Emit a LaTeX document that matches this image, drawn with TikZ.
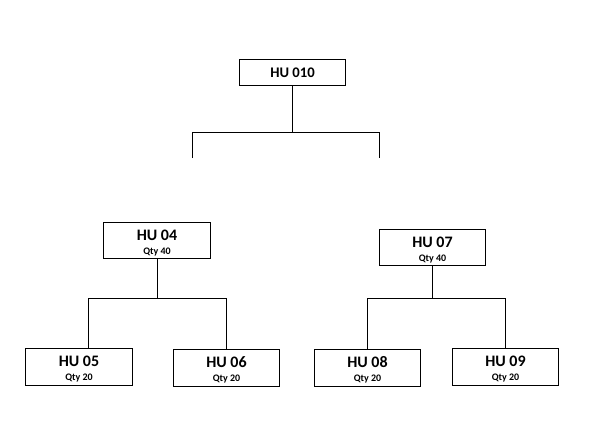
\documentclass[tikz,border=0pt]{standalone}
\usepackage{fontspec}
\setmainfont{Carlito}
\usetikzlibrary{positioning,calc}
\tikzset{
  hubox/.style={draw=black, line width=0.75pt, rectangle, inner sep=0pt,
    minimum width=80pt, minimum height=27.5pt, align=center, font=\bfseries},
  topbox/.style={hubox, minimum height=19pt},
  link/.style={draw=black, line width=0.75pt}
}
\newcommand{\hulabel}[2]{{\fontsize{12}{13}\selectfont\rule{0pt}{11.5pt}#1}\\[-1.5pt]{\fontsize{7.5}{8}\selectfont #2}}

\begin{document}
\begin{tikzpicture}[x=0.75pt, y=-0.75pt]
    \useasboundingbox (0,0) rectangle (592,444);

    % top of the tree
    \node[topbox, font=\bfseries\fontsize{11}{12}\selectfont] (hu010) at (292.5,72.5) {HU 010};
    \coordinate (b010) at (292.5,132.5);
    \coordinate (b010l) at (192.5,132.5);
    \coordinate (b010r) at (379.5,132.5);
    \coordinate (e010l) at (192.5,158);
    \coordinate (e010r) at (379.5,158);

    \draw[link] (hu010.south -| b010) -- (b010);
    \draw[link] (e010l) -- (b010l) -- (b010r) -- (e010r);

    % left branch
    \node[hubox] (hu04) at (157,240.5) {\hulabel{HU 04}{Qty 40}};
    \node[hubox] (hu05) at (79,367) {\hulabel{HU 05}{Qty 20}};
    \node[hubox] (hu06) at (226.5,368) {\hulabel{HU 06}{Qty 20}};
    \coordinate (b04l) at (88.5,298.5);
    \coordinate (b04r) at (226.5,298.5);

    \draw[link] (hu04.south) -- (hu04.south |- b04l);
    \draw[link] (b04l |- hu05.north) -- (b04l) -- (b04r) -- (b04r |- hu06.north);

    % right branch
    \node[hubox] (hu07) at (432.5,247.5) {\hulabel{HU 07}{Qty 40}};
    \node[hubox] (hu08) at (367.5,368) {\hulabel{HU 08}{Qty 20}};
    \node[hubox] (hu09) at (505.5,367) {\hulabel{HU 09}{Qty 20}};
    \coordinate (b07l) at (367.5,298.5);
    \coordinate (b07r) at (505.5,298.5);

    \draw[link] (hu07.south) -- (hu07.south |- b07l);
    \draw[link] (b07l |- hu08.north) -- (b07l) -- (b07r) -- (b07r |- hu09.north);
\end{tikzpicture}
\end{document}
